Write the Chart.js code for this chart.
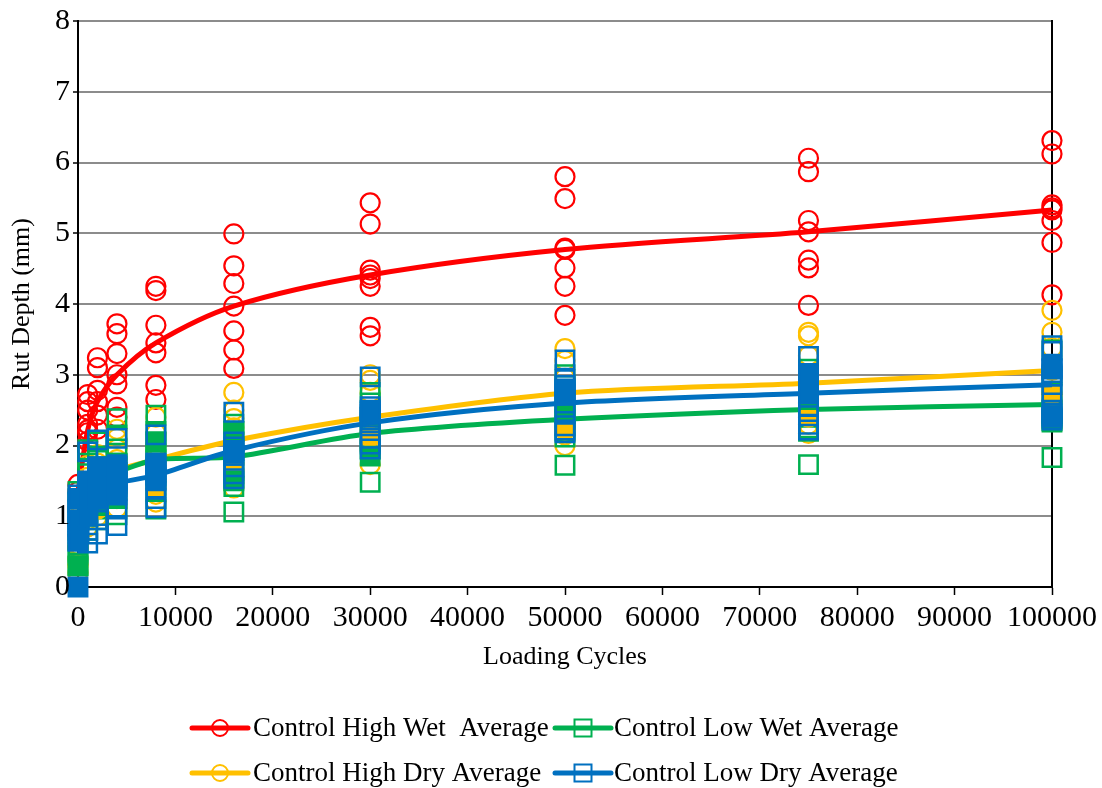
<!DOCTYPE html>
<html>
<head>
<meta charset="utf-8">
<title>Rut Depth vs Loading Cycles</title>
<script src="https://cdn.jsdelivr.net/npm/chart.js@4.4.1/dist/chart.umd.min.js"></script>
<style>
  html, body { margin: 0; padding: 0; background: #ffffff; }
  #wrap { width: 1102px; height: 788px; position: relative; }
</style>
</head>
<body>
<div id="wrap"><canvas id="chart" width="1102" height="788"></canvas></div>
<script>
// Loading cycles at which rut depth was measured
const cycles = [0, 1000, 2000, 4000, 8000, 16000, 30000, 50000, 75000, 100000];

// Average rut depth (mm) per condition
const highWetAvg = [1.35, 2.22, 2.62, 3.00, 3.45, 3.97, 4.41, 4.77, 5.02, 5.33];
const lowWetAvg  = [0.80, 1.35, 1.50, 1.62, 1.80, 1.84, 2.17, 2.37, 2.51, 2.58];
const highDryAvg = [0.60, 1.30, 1.50, 1.65, 1.80, 2.07, 2.40, 2.74, 2.88, 3.06];
const lowDryAvg  = [0.85, 1.25, 1.40, 1.47, 1.58, 1.93, 2.32, 2.60, 2.74, 2.86];

// Individual measurements (mm), one list per entry of `cycles`
const highWetReps = [
  [1.45],
  [2.72, 2.62, 2.50, 2.30, 2.18, 2.06],
  [3.24, 3.10, 2.78, 2.43, 2.23],
  [3.72, 3.58, 3.30, 2.87, 2.54, 2.40],
  [4.25, 4.19, 3.70, 3.31, 2.85, 2.65],
  [4.99, 4.54, 4.29, 3.62, 3.35, 3.09],
  [5.43, 5.13, 4.48, 4.36, 4.25, 3.67, 3.55],
  [5.80, 5.49, 4.79, 4.51, 4.25, 3.84],
  [6.06, 5.87, 5.18, 4.62, 4.51, 3.98],
  [6.31, 6.12, 5.40, 5.36, 5.18, 4.87, 4.13]
];
const highDryReps = [
  [1.20, 0.95, 0.75, 0.55, 0.40, 0.20],
  [1.72, 1.55, 1.40, 1.10, 0.95, 0.85],
  [1.87, 1.75, 1.62, 1.35, 1.20, 1.00],
  [2.23, 2.10, 1.95, 1.80, 1.40, 1.25, 1.12],
  [2.40, 2.17, 2.00, 1.87, 1.50, 1.31, 1.20],
  [2.75, 2.50, 2.38, 2.25, 1.85, 1.75, 1.55, 1.40],
  [3.00, 2.92, 2.75, 2.20, 2.05, 1.95, 1.73],
  [3.37, 3.20, 2.95, 2.35, 2.25, 2.15, 2.00],
  [3.60, 3.55, 3.27, 3.00, 2.60, 2.45, 2.30, 2.17],
  [3.91, 3.60, 3.38, 2.95, 2.75, 2.62, 2.50, 2.35]
];
const lowWetReps = [
  [1.35, 1.20, 1.00, 0.60, 0.45, 0.30],
  [1.94, 1.75, 1.60, 1.45, 1.15, 1.00, 0.80],
  [2.05, 1.85, 1.70, 1.40, 1.25, 1.10, 0.95],
  [2.38, 2.15, 1.95, 1.75, 1.45, 1.25, 1.02],
  [2.43, 2.20, 2.05, 1.90, 1.55, 1.35, 1.10],
  [2.30, 2.20, 2.05, 1.65, 1.55, 1.42, 1.06],
  [2.75, 2.60, 2.40, 2.30, 2.05, 1.95, 1.48],
  [3.00, 2.85, 2.55, 2.45, 2.20, 2.12, 1.72],
  [3.08, 2.90, 2.70, 2.40, 2.25, 2.20, 1.73],
  [3.35, 3.00, 2.75, 2.45, 2.38, 2.33, 1.83]
];
const lowDryReps = [
  [1.30, 1.20, 1.10, 1.00, 0.92, 0.75, 0.65],
  [1.91, 1.45, 1.38, 1.32, 1.27, 1.22, 1.15, 1.05, 0.80, 0.62],
  [2.08, 1.55, 1.48, 1.42, 1.38, 1.33, 1.28, 1.20, 0.95, 0.75],
  [2.10, 1.70, 1.62, 1.55, 1.42, 1.36, 1.30, 1.10, 0.87],
  [2.15, 1.75, 1.70, 1.66, 1.62, 1.52, 1.40, 1.25, 1.12],
  [2.47, 2.05, 1.98, 1.90, 1.86, 1.70, 1.60, 1.53],
  [2.97, 2.55, 2.50, 2.47, 2.44, 2.40, 2.10, 2.02, 1.95],
  [3.21, 2.93, 2.85, 2.80, 2.76, 2.72, 2.45, 2.28, 2.22, 2.18],
  [3.26, 3.02, 2.97, 2.92, 2.86, 2.80, 2.55, 2.42, 2.30, 2.22],
  [3.41, 3.33, 3.12, 3.08, 3.03, 2.98, 2.72, 2.50, 2.45, 2.40, 2.36]
];

// Specimens plotted with solid markers (mm), one list per entry of `cycles`
const lowDrySolid  = [[1.25, 0.95, 0.65, 0.00], [1.50, 1.25, 1.00], [1.70, 1.45, 1.25], [1.73, 1.50, 1.31],
                      [1.75, 1.50], [1.93], [2.49], [2.79], [2.98, 2.73], [3.09, 2.42]];
const highDrySolid = [[0.30], [1.00], [1.10], [1.35], [1.40], [1.65], [2.12], [2.22], [2.40], [2.72, 2.42]];
const lowWetSolid  = [[0.30], [1.05], [1.15], [1.75], [2.05], [2.20, 1.50], [1.85], [2.50], [2.65], [2.35]];

const seriesNames = [
  'Control High Wet  Average',
  'Control Low Wet Average',
  'Control High Dry Average',
  'Control Low Dry Average'
];

const RED = '#FF0000', GREEN = '#00B050', YELLOW = '#FFC000', BLUE = '#0070C0';
const FONT = "'Liberation Serif', 'Times New Roman', serif";
const CIRCLE_R = 9.5, SQUARE_R = 13;

function avgPoints(avg) {
  return cycles.map((c, i) => ({ x: c, y: avg[i] }));
}
function repPoints(reps) {
  const pts = [];
  reps.forEach((list, i) => list.forEach(v => pts.push({ x: cycles[i], y: v })));
  return pts;
}

function markerWidth(style) { return style === 'rect' ? 2.5 : 2.2; }

function avgSet(label, avg, color, style, radius, order) {
  return {
    label, data: avgPoints(avg), showLine: true,
    borderColor: color, borderWidth: 5, tension: 0.3,
    pointStyle: style, pointRadius: radius, pointHoverRadius: radius,
    pointBorderColor: color, pointBackgroundColor: 'rgba(0,0,0,0)', pointBorderWidth: markerWidth(style),
    clip: false, order
  };
}
function repSet(label, reps, color, style, radius, order, solid) {
  return {
    label, data: repPoints(reps), showLine: false,
    pointStyle: style, pointRadius: radius, pointHoverRadius: radius,
    pointBorderColor: color, pointBackgroundColor: solid ? color : 'rgba(0,0,0,0)',
    pointBorderWidth: markerWidth(style),
    clip: false, order
  };
}

// Legend: a short thick line with a hollow marker, followed by the series name
const legendEntries = [
  { text: seriesNames[0], color: RED,    style: 'circle', lx: 192, tx: 253, y: 728 },
  { text: seriesNames[1], color: GREEN,  style: 'rect',   lx: 555, tx: 614, y: 728 },
  { text: seriesNames[2], color: YELLOW, style: 'circle', lx: 192, tx: 253, y: 773 },
  { text: seriesNames[3], color: BLUE,   style: 'rect',   lx: 555, tx: 614, y: 773 }
];
const legendPlugin = {
  id: 'lineMarkerLegend',
  afterDraw(chart) {
    const ctx = chart.ctx;
    ctx.save();
    legendEntries.forEach(e => {
      ctx.strokeStyle = e.color;
      ctx.lineWidth = 5;
      ctx.lineCap = 'round';
      ctx.beginPath();
      ctx.moveTo(e.lx, e.y);
      ctx.lineTo(e.lx + 56, e.y);
      ctx.stroke();
      const cx = e.lx + 28;
      ctx.lineWidth = 2;
      ctx.beginPath();
      if (e.style === 'circle') {
        ctx.arc(cx, e.y, 8, 0, Math.PI * 2);
      } else {
        ctx.rect(cx - 8.5, e.y - 8.5, 17, 17);
      }
      ctx.stroke();
      ctx.fillStyle = '#000000';
      ctx.font = '27px ' + FONT;
      ctx.textAlign = 'left';
      ctx.textBaseline = 'middle';
      ctx.fillText(e.text, e.tx, e.y + 1);
    });
    ctx.restore();
  }
};

Chart.defaults.font.family = FONT;
Chart.defaults.color = '#000000';

new Chart(document.getElementById('chart'), {
  type: 'scatter',
  data: {
    datasets: [
      repSet('Control Low Dry solid', lowDrySolid, BLUE, 'rect', SQUARE_R, 0, true),
      avgSet(seriesNames[3], lowDryAvg, BLUE, 'rect', SQUARE_R, 1),
      repSet('Control Low Dry', lowDryReps, BLUE, 'rect', SQUARE_R, 2),
      repSet('Control Low Wet solid', lowWetSolid, GREEN, 'rect', SQUARE_R, 3, true),
      repSet('Control High Dry solid', highDrySolid, YELLOW, 'circle', CIRCLE_R, 4, true),
      avgSet(seriesNames[1], lowWetAvg, GREEN, 'rect', SQUARE_R, 5),
      repSet('Control Low Wet', lowWetReps, GREEN, 'rect', SQUARE_R, 6),
      avgSet(seriesNames[2], highDryAvg, YELLOW, 'circle', CIRCLE_R, 7),
      repSet('Control High Dry', highDryReps, YELLOW, 'circle', CIRCLE_R, 8),
      avgSet(seriesNames[0], highWetAvg, RED, 'circle', CIRCLE_R, 9),
      repSet('Control High Wet', highWetReps, RED, 'circle', CIRCLE_R, 10)
    ]
  },
  options: {
    responsive: false,
    animation: false,
    devicePixelRatio: 1,
    events: [],
    layout: { autoPadding: false, padding: { left: 0, top: 14, right: 49, bottom: 111 } },
    plugins: { legend: { display: false }, tooltip: { enabled: false } },
    scales: {
      x: {
        type: 'linear', min: 0, max: 100000,
        afterFit: s => { s.height = 90; },
        ticks: {
          stepSize: 10000, autoSkip: false, maxRotation: 0, padding: 5,
          color: '#000', font: { size: 30 },
          callback: v => String(v)
        },
        grid: { drawOnChartArea: false, drawTicks: true, tickLength: 8, tickColor: '#000', tickWidth: 1.5 },
        border: { color: '#000', width: 2 },
        title: { display: true, text: 'Loading Cycles', color: '#000', font: { size: 26 }, padding: { top: 0, bottom: 4 } }
      },
      y: {
        min: 0, max: 8,
        afterFit: s => { s.width = 78; },
        ticks: { stepSize: 1, padding: 3, color: '#000', font: { size: 30 }, z: 1 },
        grid: { color: '#8c8c8c', lineWidth: 2, tickColor: '#000', tickLength: 5, tickWidth: 1.5 },
        border: { color: '#000', width: 2 },
        title: { display: true, text: 'Rut Depth (mm)', color: '#000', font: { size: 26 }, padding: { top: 7, bottom: 0 } }
      },
      y2: {
        position: 'right', min: 0, max: 8,
        afterFit: s => { s.width = 0; },
        ticks: { display: false },
        grid: { display: false },
        border: { display: true, color: '#000', width: 2 }
      }
    }
  },
  plugins: [legendPlugin]
});
</script>
</body>
</html>
